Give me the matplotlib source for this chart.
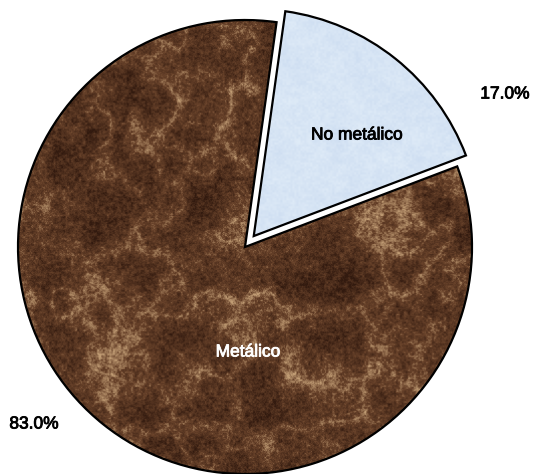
import numpy as np
import matplotlib
matplotlib.use('Agg')
import matplotlib.pyplot as plt
import matplotlib.patheffects as pe

plt.rcParams['font.family'] = ['Liberation Sans', 'DejaVu Sans']

labels = ['Metálico', 'No metálico']
values = [83.0, 17.0]
pct_labels = ['83.0%', '17.0%']

W, H = 537, 474
fig = plt.figure(figsize=(W / 100, H / 100), dpi=100)
ax = fig.add_axes([0, 0, 1, 1])

cx, cy, R = 245, H - 247, 227
wedges, _ = ax.pie(values, startangle=82, center=(cx, cy), radius=R,
                   explode=[0, 14], frame=True,
                   colors=['none', 'none'],
                   wedgeprops=dict(edgecolor='black', linewidth=1.6))
ax.set_xlim(0, W)
ax.set_ylim(0, H)
ax.set_aspect('equal')
ax.axis('off')

# ---- procedural textures (style only) ----
rng = np.random.default_rng(11)


def upsample(a, h, w):
    gh, gw = a.shape
    yi = np.linspace(0, gh - 1, h)
    xi = np.linspace(0, gw - 1, w)
    y0 = np.floor(yi).astype(int); y1 = np.minimum(y0 + 1, gh - 1)
    x0 = np.floor(xi).astype(int); x1 = np.minimum(x0 + 1, gw - 1)
    fy = (yi - y0)[:, None]; fx = (xi - x0)[None, :]
    fy = fy * fy * (3 - 2 * fy); fx = fx * fx * (3 - 2 * fx)
    a00 = a[y0][:, x0]; a01 = a[y0][:, x1]
    a10 = a[y1][:, x0]; a11 = a[y1][:, x1]
    return (a00 * (1 - fx) + a01 * fx) * (1 - fy) + (a10 * (1 - fx) + a11 * fx) * fy


def fractal(h, w, cells, weights):
    out = np.zeros((h, w))
    for c, wt in zip(cells, weights):
        g = rng.random((h // c + 2, w // c + 2))
        out += wt * upsample(g, h, w)
    out -= out.min()
    return out / out.max()


base = fractal(H, W, [110, 50, 24], [1.0, 0.7, 0.5])
ridge_src = fractal(H, W, [70, 35, 15], [1.0, 0.6, 0.4])
veins = np.exp(-np.abs(ridge_src - 0.5) * 7)
speck = fractal(H, W, [4, 2, 1], [0.7, 0.8, 0.6])

t = 0.35 * base + 0.35 * veins + 0.55 * (speck - 0.5) + 0.15
t = np.clip((t - t.min()) / (t.max() - t.min()), 0, 1)
t = np.clip((t - 0.12) / 0.8, 0, 1)
dark = np.array([50, 26, 15]) / 255
mid = np.array([104, 66, 42]) / 255
light = np.array([192, 156, 116]) / 255
tt = t[..., None]
img = np.where(tt < 0.55,
               dark + (mid - dark) * (tt / 0.55),
               mid + (light - mid) * ((tt - 0.55) / 0.45))
img = np.clip(img, 0, 1)

blue_n = fractal(H, W, [20, 6, 2], [0.6, 0.6, 0.8])
b0 = np.array([224, 236, 248]) / 255
b1 = np.array([205, 221, 241]) / 255
bimg = b0 + (b1 - b0) * blue_n[..., None]

im1 = ax.imshow(img, extent=(0, W, 0, H), origin='upper', zorder=0.5,
                interpolation='bilinear')
im1.set_clip_path(wedges[0])
im2 = ax.imshow(bimg, extent=(0, W, 0, H), origin='upper', zorder=0.5,
                interpolation='bilinear')
im2.set_clip_path(wedges[1])
ax.set_xlim(0, W)
ax.set_ylim(0, H)

# ---- labels ----
fs = 12.5


def put(x, y, s, color):
    ax.text(x, H - y, s, color=color, fontsize=fs, ha='center', va='center',
            zorder=3,
            path_effects=[pe.withStroke(linewidth=0.6, foreground=color)])


put(248, 352, labels[0], 'white')
put(357, 135, labels[1], 'black')
put(34, 424, pct_labels[0], 'black')
put(505, 94, pct_labels[1], 'black')

fig.savefig('out.png', dpi=100)
